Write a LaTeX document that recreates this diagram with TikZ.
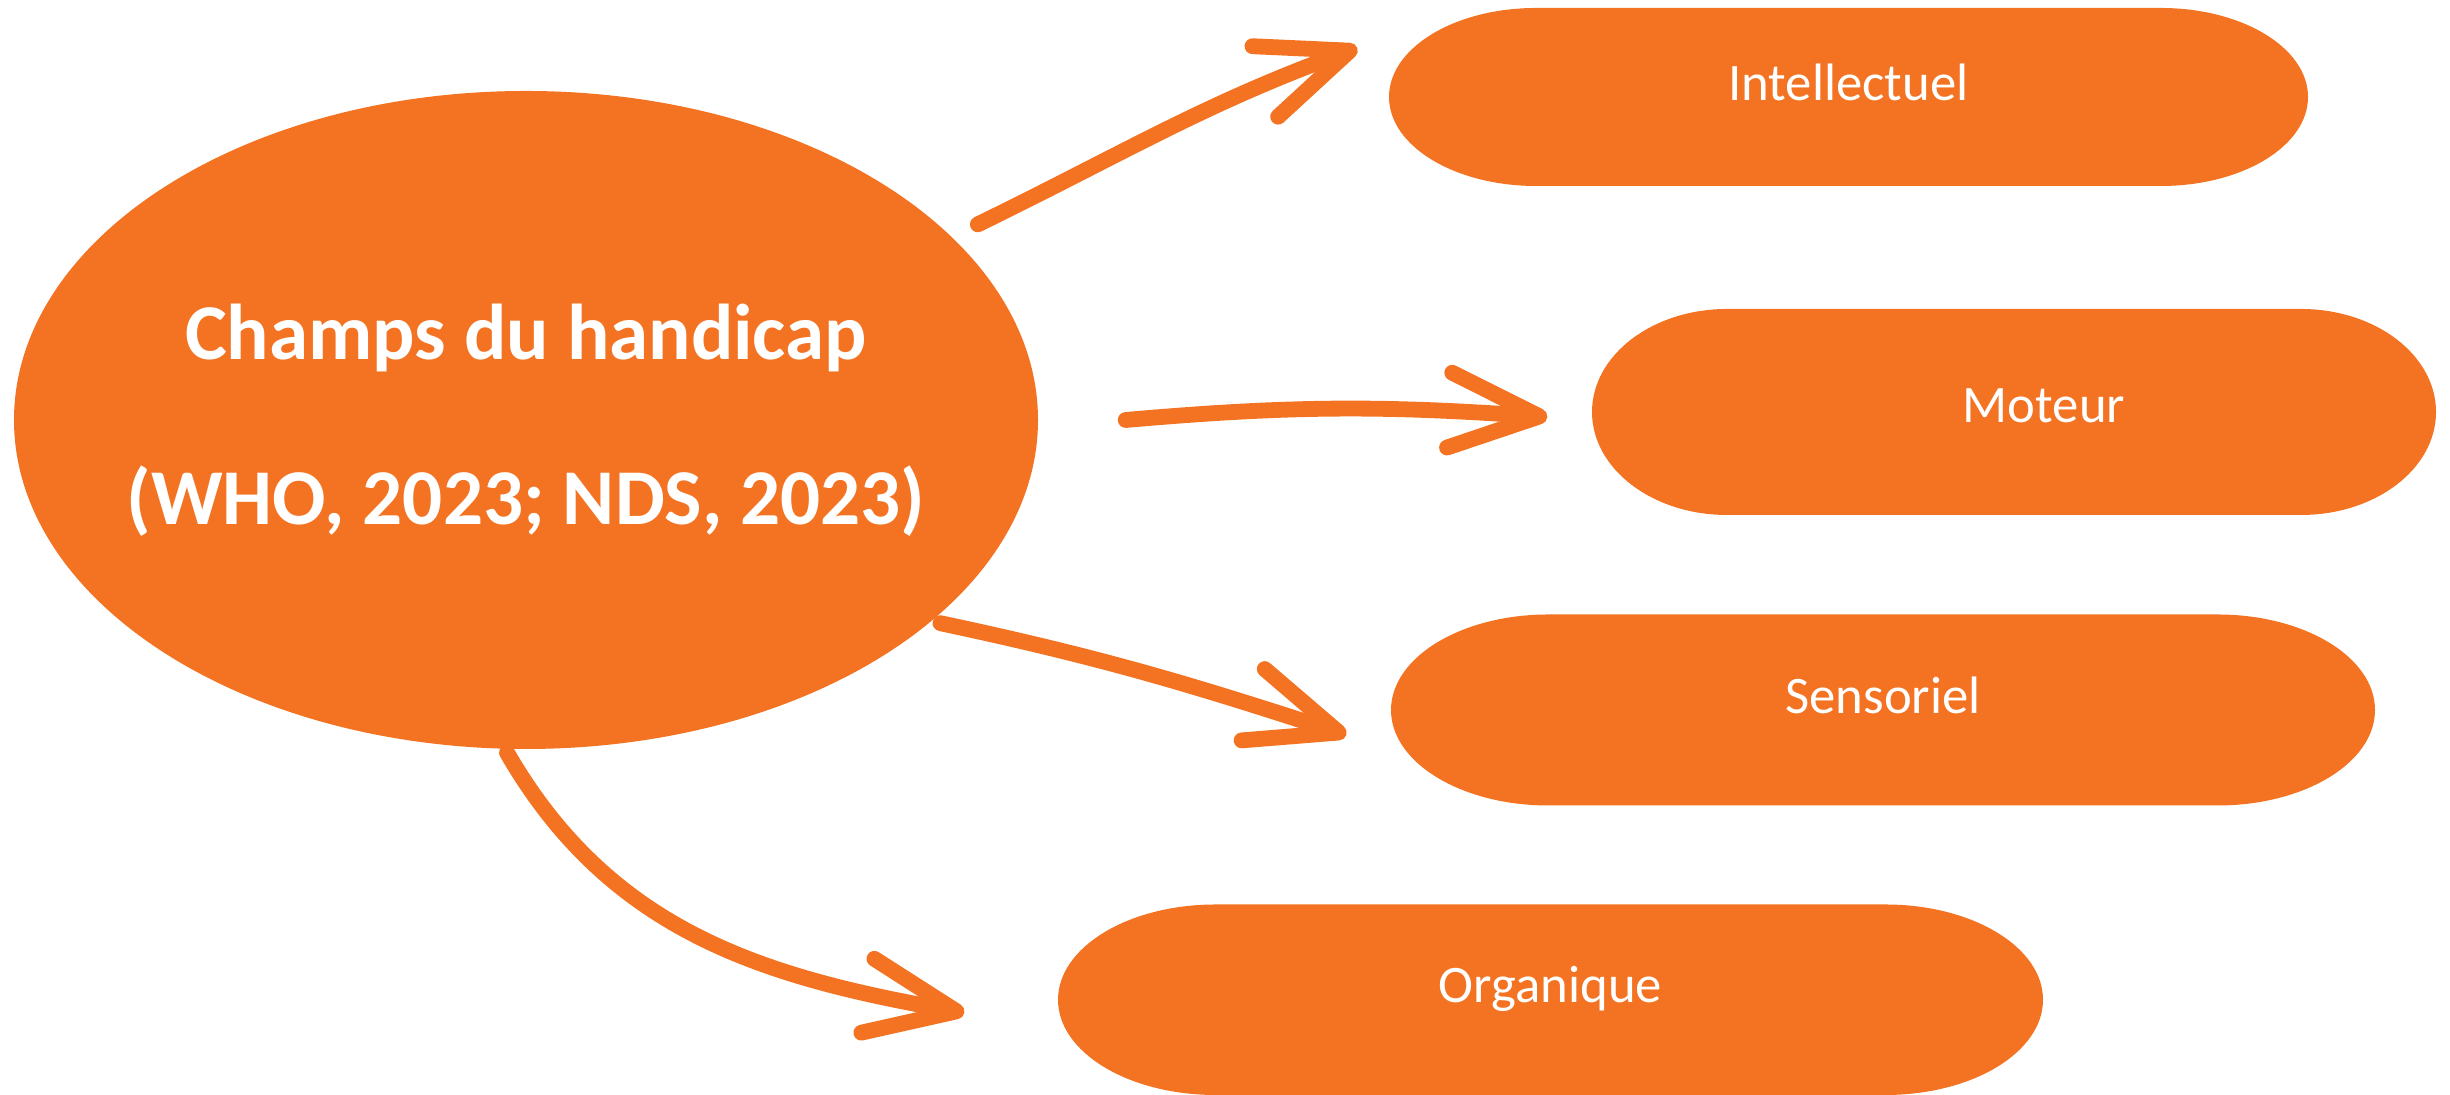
\documentclass[tikz,border=0pt]{standalone}
\usepackage{fontspec}
\setmainfont{Carlito}
\usepackage{tikz}
\usetikzlibrary{shapes.geometric,arrows.meta,calc}
\definecolor{orangeh}{RGB}{243,115,34}

\begin{document}
\begin{tikzpicture}[
  champ/.style={rectangle, inner sep=0pt, text=white, text depth=0.3cm,
    font=\fontsize{15}{18}\selectfont,
    path picture={\fill[orangeh] let \p1=(path picture bounding box.south west),
      \p2=(path picture bounding box.north east),
      \n1={0.16*(\x2-\x1)}, \n2={(\y2-\y1)/2} in
      (\x1+\n1,\y1) -- (\x2-\n1,\y1)
      arc[start angle=-90,end angle=90,x radius=\n1,y radius=\n2]
      -- (\x1+\n1,\y2)
      arc[start angle=90,end angle=270,x radius=\n1,y radius=\n2] -- cycle;}},
  fleche/.style={orangeh, line width=4.5pt, line cap=round,
    -{Straight Barb[length=0.9cm,width=0.75cm,round]}}]
\useasboundingbox (0,0) rectangle (24.5,10.95);
%% champ principal
\node[ellipse, fill=orangeh, minimum width=10.24cm, minimum height=6.58cm,
  inner xsep=-0.6cm, inner ysep=0pt, text=white, align=center,
  font=\bfseries\fontsize{22.5}{47}\selectfont] (hand) at (5.26,6.75)
  {Champs du handicap\\(WHO, 2023; NDS, 2023)};
%% types
\node[champ, minimum width=9.19cm, minimum height=1.78cm] (intel) at (18.485,9.98) {Intellectuel};
\node[champ, minimum width=8.44cm, minimum height=2.06cm, text depth=0.12cm] (moteur) at (20.14,6.83) {\hspace*{0.6cm}Moteur};
\node[champ, minimum width=9.84cm, minimum height=1.91cm] (senso) at (18.83,3.85) {Sensoriel};
\node[champ, minimum width=9.85cm, minimum height=1.905cm] (organ) at (15.505,0.9525) {Organique};
%% fleches
\draw[fleche] ([shift={(0.24,0.14)}]hand.23) to[out=26,in=200] ([shift={(-0.31,0.49)}]intel.west);
\draw[fleche] ([xshift=0.87cm]hand.east) to[out=5,in=176] ([shift={(-0.44,-0.05)}]moteur.west);
\draw[fleche] ([shift={(0.06,-0.04)}]hand.-26) to[out=-12,in=162] ([shift={(-0.44,-0.25)}]senso.west);
\draw[fleche] ([shift={(-0.19,-0.03)}]hand.south) to[out=-60,in=170] ([shift={(-0.93,-0.13)}]organ.west);

\end{tikzpicture}
\end{document}
